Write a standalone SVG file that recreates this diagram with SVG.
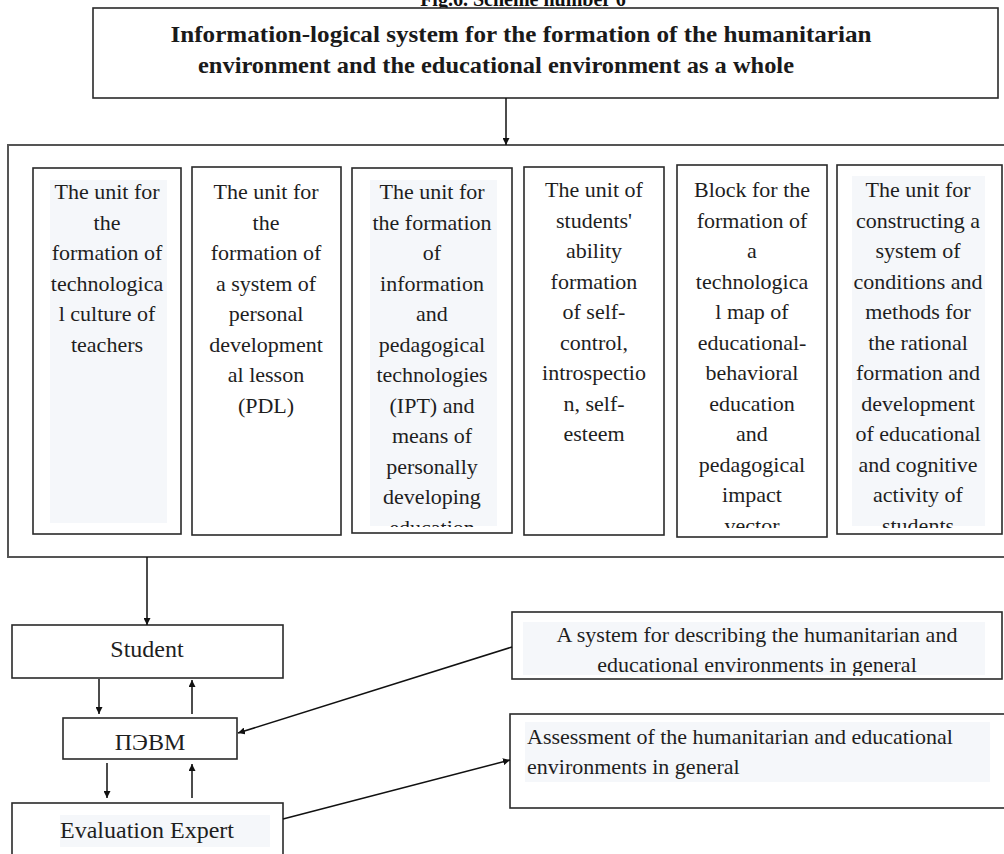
<svg xmlns="http://www.w3.org/2000/svg" width="1004" height="854" viewBox="0 0 1004 854">
<style>
.box{fill:#fff;stroke:#2a2a2a;stroke-width:1.6}
.frame{fill:none;stroke:#555;stroke-width:2}
.hl{fill:#f5f7fa}
.t{font-family:"Liberation Serif","Times New Roman",serif;font-size:22px;fill:#1e1e1e}
.c{text-anchor:middle}
.b{font-size:24px}
.ti{font-family:"Liberation Serif","Times New Roman",serif;font-weight:bold;font-size:23px;fill:#1a1a1a;text-anchor:middle}
.cap{font-family:"Liberation Serif","Times New Roman",serif;font-weight:bold;font-size:20px;fill:#111;text-anchor:middle}
.ln{stroke:#111;stroke-width:1.5;fill:none;marker-end:url(#ah)}
</style>
<defs>
<marker id="ah" viewBox="0 0 10 10" refX="10" refY="5" markerWidth="7" markerHeight="7" markerUnits="userSpaceOnUse" orient="auto"><path d="M0,0 L10,5 L0,10 z" fill="#111"/></marker>
<clipPath id="c1"><rect x="33" y="168" width="148" height="359"/></clipPath>
<clipPath id="c2"><rect x="192" y="167" width="149" height="360"/></clipPath>
<clipPath id="c3"><rect x="352" y="168" width="160" height="359"/></clipPath>
<clipPath id="c4"><rect x="524" y="167" width="140" height="361"/></clipPath>
<clipPath id="c5"><rect x="677" y="165" width="150" height="363"/></clipPath>
<clipPath id="c6"><rect x="837" y="165" width="165" height="363"/></clipPath>
<clipPath id="cs"><rect x="512" y="612" width="490" height="64"/></clipPath>
</defs>
<rect width="1004" height="854" fill="#fff"/>
<text class="cap" x="523" y="6">Fig.6. Scheme number 6</text>

<g id="title">
<rect class="box" x="93" y="8" width="905" height="90"/>
<text class="ti" x="521" y="42" textLength="701" lengthAdjust="spacingAndGlyphs">Information-logical system for the formation of the humanitarian</text>
<text class="ti" x="496" y="73" textLength="596" lengthAdjust="spacingAndGlyphs">environment and the educational environment as a whole</text>
</g>

<g id="container">
<rect class="frame" x="8" y="145" width="1000" height="412"/>
</g>

<g id="unit1">
<rect class="box" x="33" y="168" width="148" height="366"/>
<rect class="hl" x="50" y="180" width="117" height="343"/>
<g clip-path="url(#c1)">
<text class="t c" x="107" y="199">The unit for</text>
<text class="t c" x="107" y="229.5">the</text>
<text class="t c" x="107" y="260">formation of</text>
<text class="t c" x="107" y="290.5">technologica</text>
<text class="t c" x="107" y="321">l culture of</text>
<text class="t c" x="107" y="351.5">teachers</text>
</g>
</g>

<g id="unit2">
<rect class="box" x="192" y="167" width="149" height="368"/>
<g clip-path="url(#c2)">
<text class="t c" x="266" y="199">The unit for</text>
<text class="t c" x="266" y="229.5">the</text>
<text class="t c" x="266" y="260">formation of</text>
<text class="t c" x="266" y="290.5">a system of</text>
<text class="t c" x="266" y="321">personal</text>
<text class="t c" x="266" y="351.5">development</text>
<text class="t c" x="266" y="382">al lesson</text>
<text class="t c" x="266" y="412.5">(PDL)</text>
</g>
</g>

<g id="unit3">
<rect class="box" x="352" y="168" width="160" height="365"/>
<rect class="hl" x="370" y="180" width="127" height="346"/>
<g clip-path="url(#c3)">
<text class="t c" x="432" y="199">The unit for</text>
<text class="t c" x="432" y="229.5">the formation</text>
<text class="t c" x="432" y="260">of</text>
<text class="t c" x="432" y="290.5">information</text>
<text class="t c" x="432" y="321">and</text>
<text class="t c" x="432" y="351.5">pedagogical</text>
<text class="t c" x="432" y="382">technologies</text>
<text class="t c" x="432" y="412.5">(IPT) and</text>
<text class="t c" x="432" y="443">means of</text>
<text class="t c" x="432" y="473.5">personally</text>
<text class="t c" x="432" y="504">developing</text>
<text class="t c" x="432" y="534.5">education</text>
</g>
</g>

<g id="unit4">
<rect class="box" x="524" y="167" width="140" height="368"/>
<g clip-path="url(#c4)">
<text class="t c" x="594" y="197">The unit of</text>
<text class="t c" x="594" y="227.5">students'</text>
<text class="t c" x="594" y="258">ability</text>
<text class="t c" x="594" y="288.5">formation</text>
<text class="t c" x="594" y="319">of self-</text>
<text class="t c" x="594" y="349.5">control,</text>
<text class="t c" x="594" y="380">introspectio</text>
<text class="t c" x="594" y="410.5">n, self-</text>
<text class="t c" x="594" y="441">esteem</text>
</g>
</g>

<g id="unit5">
<rect class="box" x="677" y="165" width="150" height="372"/>
<g clip-path="url(#c5)">
<text class="t c" x="752" y="197">Block for the</text>
<text class="t c" x="752" y="227.5">formation of</text>
<text class="t c" x="752" y="258">a</text>
<text class="t c" x="752" y="288.5">technologica</text>
<text class="t c" x="752" y="319">l map of</text>
<text class="t c" x="752" y="349.5">educational-</text>
<text class="t c" x="752" y="380">behavioral</text>
<text class="t c" x="752" y="410.5">education</text>
<text class="t c" x="752" y="441">and</text>
<text class="t c" x="752" y="471.5">pedagogical</text>
<text class="t c" x="752" y="502">impact</text>
<text class="t c" x="752" y="532.5">vector</text>
</g>
</g>

<g id="unit6">
<rect class="box" x="837" y="165" width="165" height="369"/>
<rect class="hl" x="852" y="176" width="133" height="350"/>
<g clip-path="url(#c6)">
<text class="t c" x="918" y="197">The unit for</text>
<text class="t c" x="918" y="227.5">constructing a</text>
<text class="t c" x="918" y="258">system of</text>
<text class="t c" x="918" y="288.5">conditions and</text>
<text class="t c" x="918" y="319">methods for</text>
<text class="t c" x="918" y="349.5">the rational</text>
<text class="t c" x="918" y="380">formation and</text>
<text class="t c" x="918" y="410.5">development</text>
<text class="t c" x="918" y="441">of educational</text>
<text class="t c" x="918" y="471.5">and cognitive</text>
<text class="t c" x="918" y="502">activity of</text>
<text class="t c" x="918" y="532.5">students</text>
</g>
</g>

<g id="student">
<rect class="box" x="12" y="625" width="271" height="53"/>
<text class="t c b" x="147" y="657">Student</text>
</g>

<g id="pevm">
<rect class="box" x="63" y="718" width="174" height="41"/>
<text class="t c b" x="150" y="750">ПЭВМ</text>
</g>

<g id="expert">
<rect class="box" x="12" y="803" width="271" height="60"/>
<rect class="hl" x="60" y="815" width="210" height="32"/>
<text class="t c b" x="147" y="838">Evaluation Expert</text>
</g>

<g id="system">
<rect class="box" x="512" y="612" width="490" height="67"/>
<rect class="hl" x="523" y="622" width="462" height="53"/>
<g clip-path="url(#cs)">
<text class="t c" x="757" y="642">A system for describing the humanitarian and</text>
<text class="t c" x="757" y="672">educational environments in general</text>
</g>
</g>

<g id="assessment">
<rect class="box" x="510" y="714" width="500" height="94"/>
<rect class="hl" x="525" y="722" width="465" height="60"/>
<text class="t" x="527" y="744">Assessment of the humanitarian and educational</text>
<text class="t" x="527" y="774">environments in general</text>
</g>

<g id="connectors">
<line class="ln" x1="506" y1="98" x2="506" y2="145"/>
<line class="ln" x1="147" y1="557" x2="147" y2="625"/>
<line class="ln" x1="99" y1="679" x2="99" y2="714"/>
<line class="ln" x1="192" y1="714" x2="192" y2="680"/>
<line class="ln" x1="107" y1="763" x2="107" y2="798"/>
<line class="ln" x1="192" y1="798" x2="192" y2="764"/>
<line class="ln" x1="512" y1="647" x2="238" y2="733"/>
<line class="ln" x1="283" y1="819" x2="510" y2="760"/>
</g>
</svg>
